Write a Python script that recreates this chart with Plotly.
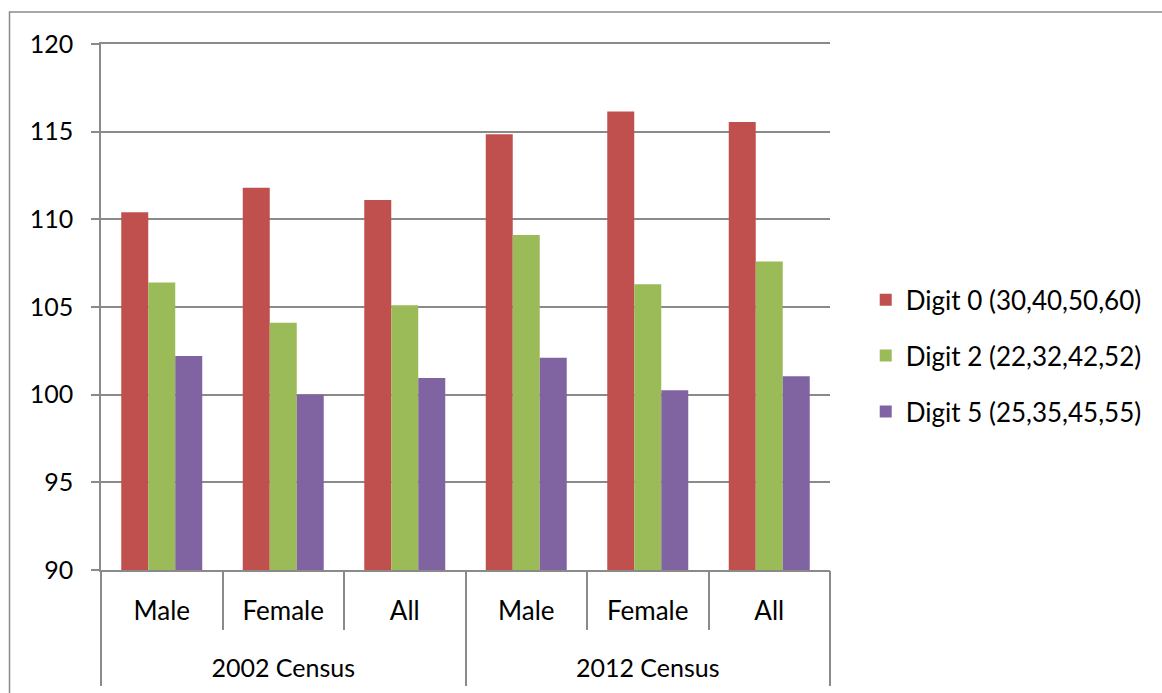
import plotly.graph_objects as go

# Census groups and sex categories along the x axis
census_groups = ["2002 Census", "2012 Census"]
sex = ["Male", "Female", "All", "Male", "Female", "All"]

# Index values for each preferred terminal digit
digit0 = [110.4, 111.8, 111.1, 114.85, 116.15, 115.55]
digit2 = [106.4, 104.1, 105.1, 109.1, 106.3, 107.6]
digit5 = [102.2, 100.0, 100.95, 102.1, 100.25, 101.05]

series_names = ["Digit 0 (30,40,50,60)", "Digit 2 (22,32,42,52)", "Digit 5 (25,35,45,55)"]
series_values = [digit0, digit2, digit5]
series_colors = ["#C0504D", "#9BBB59", "#8064A2"]

y_ticks = [90, 95, 100, 105, 110, 115, 120]

FONT = "Lato"
GRID = "#8A8A8A"

# Category slots: one per (census, sex) pair
n_cat = len(sex)
per_group = n_cat // len(census_groups)
slots = list(range(n_cat))
x_range = [-0.5, n_cat - 0.5]
cat_bounds = [i - 0.5 for i in range(n_cat + 1)]
group_centers = [g * per_group + (per_group - 1) / 2 for g in range(len(census_groups))]
group_bounds = [g * per_group - 0.5 for g in range(len(census_groups) + 1)]

fig = go.Figure()
for i, (name, vals, col) in enumerate(zip(series_names, series_values, series_colors)):
    fig.add_trace(go.Bar(
        x=slots,
        y=vals,
        name=name,
        legendgroup=f"g{i}",
        marker=dict(color=col, line=dict(width=0)),
    ))

# empty trace so the outer (census) axis level gets drawn
fig.add_trace(go.Scatter(
    x=[None], y=[None], xaxis="x2", yaxis="y",
    mode="markers", showlegend=False, hoverinfo="skip",
))

axis_font = dict(family=FONT, size=25, color="black")

fig.update_layout(
    width=1162,
    height=693,
    margin=dict(l=101, r=332, t=44, b=123),
    paper_bgcolor="white",
    plot_bgcolor="white",
    font=dict(family=FONT, size=25, color="black"),
    barmode="group",
    bargap=1.5 / 4.5,
    bargroupgap=0,
    showlegend=True,
    legend=dict(
        x=1.049, xanchor="left",
        y=0.407, yanchor="middle",
        traceorder="grouped",
        tracegroupgap=19,
        font=dict(family=FONT, size=26, color="black"),
        bgcolor="rgba(0,0,0,0)",
    ),
    # inner level: sex labels with short separators between categories
    xaxis=dict(
        range=x_range,
        tickvals=slots,
        ticktext=sex,
        ticks="",
        showline=True,
        mirror=True,
        linecolor=GRID,
        linewidth=1.5,
        showgrid=False,
        zeroline=False,
        ticklabelstandoff=17,
        tickfont=dict(family=FONT, size=26, color="black"),
        minor=dict(
            tickvals=cat_bounds,
            ticks="outside",
            ticklen=58,
            tickcolor=GRID,
            tickwidth=1.5,
            showgrid=False,
        ),
        fixedrange=True,
    ),
    # outer level: census labels with long separators between groups
    xaxis2=dict(
        overlaying="x",
        anchor="y",
        side="bottom",
        range=x_range,
        tickvals=group_centers,
        ticktext=census_groups,
        ticks="",
        showline=False,
        showgrid=False,
        zeroline=False,
        ticklabelstandoff=81,
        tickfont=axis_font,
        minor=dict(
            tickvals=group_bounds,
            ticks="outside",
            ticklen=115,
            tickcolor=GRID,
            tickwidth=1.5,
            showgrid=False,
        ),
        fixedrange=True,
    ),
    yaxis=dict(
        range=[90, 120],
        tickvals=y_ticks,
        showline=True,
        linecolor=GRID,
        linewidth=1.5,
        showgrid=True,
        gridcolor=GRID,
        gridwidth=1.5,
        ticks="outside",
        ticklen=8,
        tickcolor=GRID,
        tickwidth=1.5,
        ticklabelstandoff=13,
        zeroline=False,
        tickfont=axis_font,
        fixedrange=True,
    ),
)

# Chart-area border (runs off the right and bottom of the page)
fig.add_shape(
    type="rect", xref="paper", yref="paper",
    x0=(9.5 - 101) / 729, x1=1.47,
    y0=-0.3, y1=(570 - 12) / 526,
    line=dict(color=GRID, width=1.5),
    fillcolor="rgba(0,0,0,0)",
    layer="below",
)

fig.write_html("out.html")
